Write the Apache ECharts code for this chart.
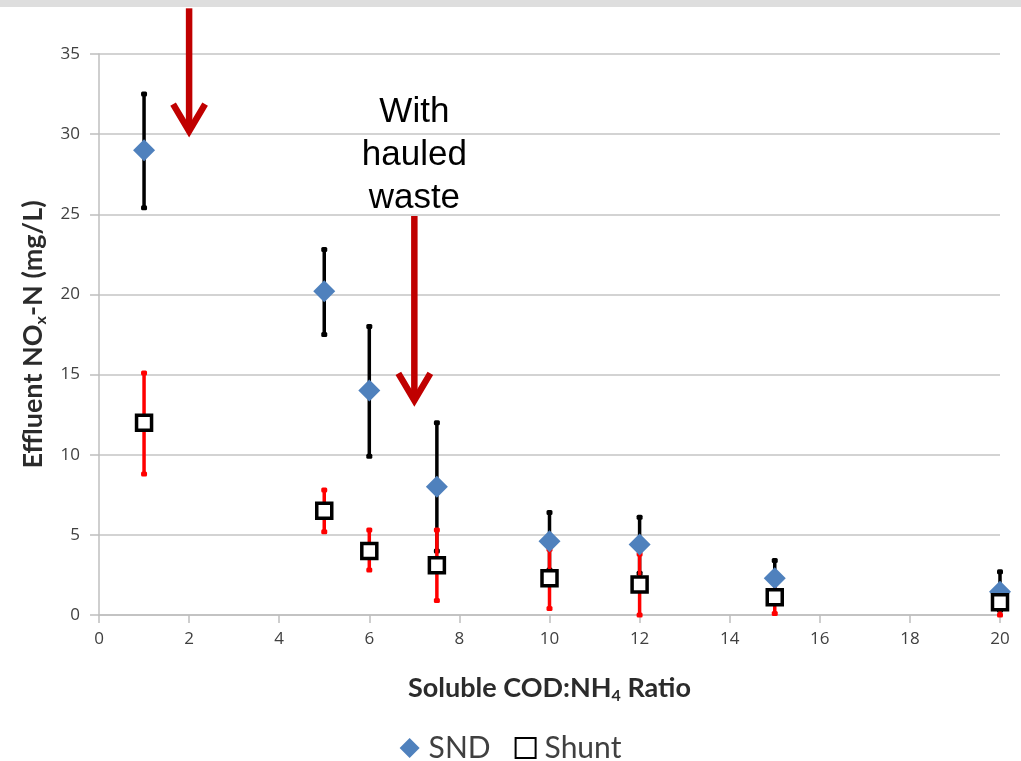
<!DOCTYPE html>
<html>
<head>
<meta charset="utf-8">
<title>Effluent NOx-N vs Soluble COD:NH4 Ratio</title>
<script src="https://cdn.jsdelivr.net/npm/echarts@6/dist/echarts.min.js"></script>
<style>
  html, body { margin: 0; padding: 0; background: #ffffff; }
  #chart { width: 1021px; height: 761px; }
</style>
</head>
<body>
<div id="chart"></div>
<script>
// COD:NH4 ratios at which both configurations were sampled
const ratios = [1, 5, 6, 7.5, 10, 12, 15, 20];

// SND: mean effluent NOx-N (mg/L) with lower / upper error bounds
const sndMean = [29.0, 20.2, 14.0, 8.0, 4.6, 4.4, 2.3, 1.45];
const sndLow  = [25.4, 17.5, 9.9, 4.0, 2.8, 2.6, 1.3, 0.3];
const sndHigh = [32.5, 22.8, 18.0, 12.0, 6.4, 6.1, 3.4, 2.7];

// Shunt: mean effluent NOx-N (mg/L) with lower / upper error bounds
const shuntMean = [12.0, 6.5, 4.0, 3.1, 2.3, 1.9, 1.1, 0.8];
const shuntLow  = [8.8, 5.2, 2.8, 0.9, 0.4, 0.0, 0.1, 0.0];
const shuntHigh = [15.1, 7.8, 5.3, 5.3, 4.1, 3.8, 2.0, 1.6];

// Axis ticks
const xTicks = [0, 2, 4, 6, 8, 10, 12, 14, 16, 18, 20];
const yTicks = [0, 5, 10, 15, 20, 25, 30, 35];

// Annotation arrows: [x, y start, y tip] in data units
const arrows = [[2, 37.85, 30.0], [7, 24.9, 13.2]];
const noteText = 'With\nhauled\nwaste';
const notePos = [7, 28.7];

// Pair each ratio with the matching entries of the given arrays
const zip = (xs, ...cols) => xs.map((x, i) => [x, ...cols.map(c => c[i])]);

const chart = echarts.init(document.getElementById('chart'), null, { renderer: 'canvas' });

function errorBarRenderer(color, width, capW, capH) {
  return function (params, api) {
    const x = api.value(0);
    const lo = api.coord([x, api.value(1)]);
    const hi = api.coord([x, api.value(2)]);
    return {
      type: 'group',
      children: [
        { type: 'line', shape: { x1: lo[0], y1: lo[1], x2: hi[0], y2: hi[1] },
          style: { stroke: color, lineWidth: width } },
        { type: 'rect', shape: { x: hi[0] - capW / 2, y: hi[1] - capH / 2, width: capW, height: capH, r: 1.5 },
          style: { fill: color } },
        { type: 'rect', shape: { x: lo[0] - capW / 2, y: lo[1] - capH / 2, width: capW, height: capH, r: 1.5 },
          style: { fill: color } }
      ]
    };
  };
}

function arrowRenderer(params, api) {
  const x = api.value(0);
  const top = api.coord([x, api.value(1)]);
  const tip = api.coord([x, api.value(2)]);
  const c = '#C00000';
  return {
    type: 'group',
    children: [
      { type: 'line', shape: { x1: top[0], y1: top[1], x2: tip[0], y2: tip[1] - 4 },
        style: { stroke: c, lineWidth: 6.5 } },
      { type: 'polyline', shape: { points: [[tip[0] - 16, tip[1] - 30], [tip[0], tip[1] - 3], [tip[0] + 16, tip[1] - 30]] },
        style: { stroke: c, lineWidth: 6.5, fill: null, lineJoin: 'miter' } }
    ]
  };
}

function noteRenderer(params, api) {
  const p = api.coord([api.value(0), api.value(1)]);
  return {
    type: 'text',
    x: p[0], y: p[1],
    style: {
      text: noteText,
      font: '35px "Liberation Sans", Arial, sans-serif',
      fill: '#000000',
      align: 'center',
      verticalAlign: 'middle',
      lineHeight: 43
    }
  };
}

const nameRich = {
  n: { fontSize: 27, fontWeight: 'bold', color: '#2b2b2b', fontFamily: 'Lato, sans-serif', lineHeight: 32, verticalAlign: 'middle' },
  s: { fontSize: 16, fontWeight: 'bold', color: '#2b2b2b', fontFamily: 'Lato, sans-serif', lineHeight: 32, verticalAlign: 'bottom', padding: [12, 0, 0, 0] }
};

const tickFont = { fontSize: 17, color: '#404040', fontFamily: '"Open Sans", sans-serif' };

const option = {
  backgroundColor: '#ffffff',
  animation: false,
  textStyle: { fontFamily: 'Lato, "Open Sans", sans-serif' },
  grid: { left: 99, right: 21, top: 54, bottom: 146, containLabel: false },
  graphic: [
    { type: 'rect', left: 0, top: 0, z: 100,
      shape: { width: 1021, height: 7 }, style: { fill: '#dedede' } }
  ],
  legend: {
    data: ['SND', 'Shunt'],
    top: 728,
    left: 'center',
    itemWidth: 20,
    itemHeight: 20,
    itemGap: 24,
    textStyle: { fontSize: 30, color: '#404040', fontFamily: 'Lato, sans-serif', padding: [0, 0, 0, 4] }
  },
  xAxis: {
    type: 'value',
    min: 0, max: 20, interval: 2,
    name: '{n|Soluble COD:NH}{s|4}{n| Ratio}',
    nameLocation: 'middle',
    nameGap: 57,
    nameTextStyle: { rich: nameRich },
    axisLine: { show: true, onZero: false, lineStyle: { color: '#bfbfbf', width: 1.5 } },
    axisTick: { show: true, inside: false, length: 8, lineStyle: { color: '#bfbfbf', width: 1.5 }, customValues: xTicks },
    axisLabel: Object.assign({ margin: 16, customValues: xTicks }, tickFont),
    splitLine: { show: false }
  },
  yAxis: {
    type: 'value',
    min: 0, max: 35, interval: 5,
    name: '{n|Effluent NO}{s|x}{n|-N (mg/L)}',
    nameLocation: 'middle',
    nameGap: 50,
    nameTextStyle: { rich: nameRich },
    axisLine: { show: true, lineStyle: { color: '#bfbfbf', width: 1.5 } },
    axisTick: { show: true, inside: false, length: 9, lineStyle: { color: '#bfbfbf', width: 1.5 }, customValues: yTicks },
    axisLabel: Object.assign({ margin: 19, customValues: yTicks }, tickFont),
    splitLine: { show: true, lineStyle: { color: '#c4c4c4', width: 1.5 } }
  },
  series: [
    {
      name: 'SND error', type: 'custom', z: 2,
      renderItem: errorBarRenderer('#000000', 3.5, 6, 5),
      encode: { x: 0, y: [1, 2] },
      data: zip(ratios, sndLow, sndHigh),
      silent: true
    },
    {
      name: 'Shunt error', type: 'custom', z: 3,
      renderItem: errorBarRenderer('#ff0000', 3.5, 6, 5),
      encode: { x: 0, y: [1, 2] },
      data: zip(ratios, shuntLow, shuntHigh),
      silent: true
    },
    {
      name: 'SND', type: 'scatter', z: 4,
      symbol: 'diamond', symbolSize: 22,
      itemStyle: { color: '#4F81BD', opacity: 1 },
      data: zip(ratios, sndMean)
    },
    {
      name: 'Shunt', type: 'scatter', z: 5,
      symbol: 'rect', symbolSize: 15,
      itemStyle: { color: '#ffffff', borderColor: '#000000', borderWidth: 3.5, opacity: 1 },
      data: zip(ratios, shuntMean)
    },
    {
      name: 'arrows', type: 'custom', z: 6, clip: false,
      renderItem: arrowRenderer,
      encode: { x: 0, y: [1, 2] },
      data: arrows,
      silent: true
    },
    {
      name: 'note', type: 'custom', z: 6, clip: false,
      renderItem: noteRenderer,
      encode: { x: 0, y: 1 },
      data: [notePos],
      silent: true
    }
  ]
};

chart.setOption(option);
</script>
</body>
</html>
